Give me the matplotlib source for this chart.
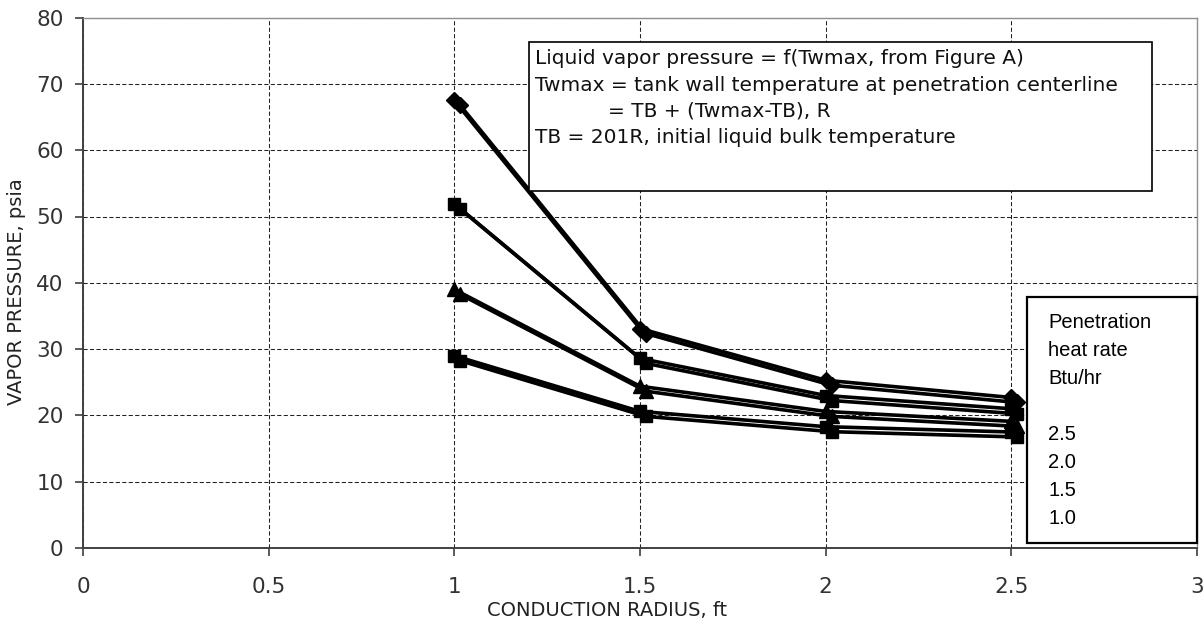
import matplotlib
matplotlib.use("Agg")
import matplotlib.pyplot as plt
import matplotlib.transforms as mtransforms
from matplotlib.patches import Rectangle

# ---- data ----
radius = [1.0, 1.5, 2.0, 2.5]
q_2_5 = [67.5, 33.1, 25.3, 22.7]
q_2_0 = [51.9, 28.6, 23.0, 21.0]
q_1_5 = [39.0, 24.4, 20.6, 19.1]
q_1_0 = [29.0, 20.6, 18.3, 17.5]
series = [q_2_5, q_2_0, q_1_5, q_1_0]
markers = ["D", "s", "^", "s"]
msizes = [8.5, 9, 10, 9]

xticks = [0, 0.5, 1, 1.5, 2, 2.5, 3]
xticklabels = ["0", "0.5", "1", "1.5", "2", "2.5", "3"]
yticks = [0, 10, 20, 30, 40, 50, 60, 70, 80]

note_lines = [
    "Liquid vapor pressure = f(Twmax, from Figure A)",
    "Twmax = tank wall temperature at penetration centerline",
    "= TB + (Twmax-TB), R",
    "TB = 201R, initial liquid bulk temperature",
]
note_indent = [535, 535, 608, 535]
legend_lines = ["Penetration", "heat rate", "Btu/hr", "", "2.5", "2.0", "1.5", "1.0"]

W, H = 1204, 624
fig = plt.figure(figsize=(W / 100, H / 100), dpi=100)
fig.patch.set_facecolor("white")

def fx(px):
    return px / W

def fy(py):
    return 1 - py / H

ax = fig.add_axes([fx(83), fy(548), fx(1197) - fx(83), fy(17.6) - fy(548)])
ax.set_xlim(0, 3)
ax.set_ylim(0, 80)
ax.set_xticks(xticks)
ax.set_xticklabels(xticklabels)
ax.set_yticks(yticks)

ax.grid(True, color="#222222", linewidth=0.75, linestyle=(0, (4, 2.2)), zorder=0)
ax.set_axisbelow(True)

for s in ["left", "bottom"]:
    ax.spines[s].set_color("#404040")
    ax.spines[s].set_linewidth(1.4)
for s in ["top", "right"]:
    ax.spines[s].set_color("#909090")
    ax.spines[s].set_linewidth(1.0)

ax.tick_params(axis="both", direction="out", length=6, width=1.2, color="#404040",
               labelsize=15.5, labelcolor="#333333")
ax.tick_params(axis="x", pad=15)
ax.tick_params(axis="y", pad=8)
ax.tick_params(top=False, right=False)

shadow = ax.transData + mtransforms.ScaledTranslation(0.06, -0.05, fig.dpi_scale_trans)
for vals, m, ms in zip(series, markers, msizes):
    ax.plot(radius, vals, color="black", linewidth=2.6, marker=m, markersize=ms,
            zorder=3, transform=shadow, clip_on=False)
    ax.plot(radius, vals, color="black", linewidth=2.6, marker=m, markersize=ms,
            zorder=4, clip_on=False)

# note box
fig.patches.append(Rectangle((fx(529), fy(191)), fx(1152) - fx(529), fy(42) - fy(191),
                             transform=fig.transFigure, facecolor="white",
                             edgecolor="black", linewidth=1.2, zorder=5))
for i, (line, xi) in enumerate(zip(note_lines, note_indent)):
    fig.text(fx(xi), fy(59 + 26.2 * i), line, fontsize=14.5, family="DejaVu Sans",
             color="#111111", va="center", ha="left", zorder=6)

# legend box
fig.patches.append(Rectangle((fx(1027), fy(543)), fx(1197) - fx(1027), fy(297) - fy(543),
                             transform=fig.transFigure, facecolor="white",
                             edgecolor="black", linewidth=1.6, zorder=5))
for i, line in enumerate(legend_lines):
    if line:
        fig.text(fx(1048), fy(322 + 28 * i), line, fontsize=14.5,
                 family="Liberation Sans", color="black", va="center", ha="left", zorder=6)

fig.text(fx(607), fy(610), "CONDUCTION RADIUS, ft", fontsize=14, family="DejaVu Sans",
         color="#222222", ha="center", va="center")
fig.text(fx(17), fy(292), "VAPOR PRESSURE, psia", fontsize=14, family="DejaVu Sans",
         color="#222222", ha="center", va="center", rotation=90)

fig.savefig("out.png", dpi=100, facecolor="white")
